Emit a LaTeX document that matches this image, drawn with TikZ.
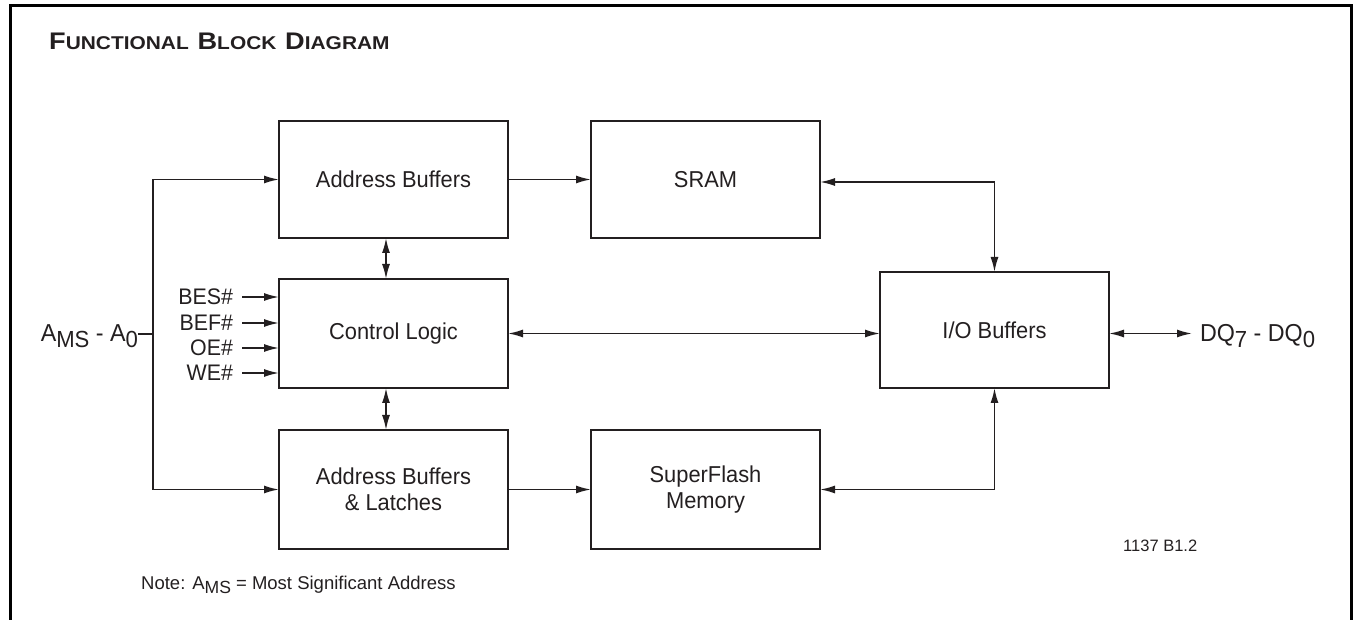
\documentclass[tikz,border=0pt]{standalone}
\usepackage{fontspec}
\usepackage{graphicx}
\setmainfont{Liberation Sans}
\newfontfamily\narrowsans[FakeStretch=0.95]{Liberation Sans}
\usetikzlibrary{arrows.meta}
\definecolor{ink}{RGB}{35,31,32}
\newcommand\lowsub[1]{\raisebox{-0.22em}{\scalebox{0.95}{#1}}}
\newcommand\bigC[1]{{\fontsize{24}{24}\selectfont #1}}
\newcommand\smC[1]{{\fontsize{18.5}{24}\selectfont #1}}
\begin{document}
\begin{tikzpicture}[x=1pt,y=-1pt,
  every node/.style={text=ink},
  blk/.style={draw=ink, line width=1.8pt, minimum width=229pt, inner sep=0pt, outer sep=0pt,
    align=center, font=\narrowsans\fontsize{23}{26}\selectfont},
  sig/.style={inner sep=0pt, outer sep=0pt, font=\narrowsans\fontsize{22.5}{24}\selectfont},
  bus/.style={inner sep=0pt, outer sep=0pt, font=\narrowsans\fontsize{24.5}{26}\selectfont},
  conn/.style={draw=ink, line width=1.7pt},
  arr/.style={conn, -{Latex[length=15pt,width=8pt]}},
  dbl/.style={conn, {Latex[length=15pt,width=8pt]}-{Latex[length=15pt,width=8pt]}}]
\useasboundingbox (0,0) rectangle (1353,620);
\draw[line width=3pt, line cap=butt] (10,620) -- (10,5.5) -- (1351,5.5) -- (1351,620);

% title
\node[anchor=base west, inner sep=0pt, font=\bfseries] (title) at (49,50)
  {\scalebox{1.13}[1]{\bigC{F}\smC{UNCTIONAL}\hspace{5pt} \bigC{B}\smC{LOCK}\hspace{5pt} \bigC{D}\smC{IAGRAM}}};

% blocks
\node[blk, minimum height=117pt] (ab)   at (393.5,179.5) {Address Buffers};
\node[blk, minimum height=117pt] (sram) at (705.5,179.5) {SRAM};
\node[blk, minimum height=109pt] (cl)   at (393.5,333.5) {Control Logic};
\node[blk, minimum height=119pt] (abl)  at (393.5,489.5) {Address Buffers\\\& Latches};
\node[blk, minimum height=119pt] (sf)   at (705.5,489.5) {SuperFlash\\Memory};
\node[blk, minimum height=116pt] (io)   at (994.5,330)   {I/O Buffers};

% address bus
\node[bus, anchor=base east] (ams) at (138,342) {A\lowsub{MS} - A\lowsub{0}};
\coordinate (bt) at (153,179.5);
\coordinate (bm) at (153,334);
\coordinate (bb) at (153,489.5);
\draw[conn] (bt) -- (bb);
\draw[conn] (ams.east |- bm) -- (bm);
\draw[arr] (bt) -- (ab.west);
\draw[arr] (bb) -- (abl.west);

% control inputs
\node[sig, anchor=east] (s1) at (233,297) {BES\#};
\node[sig, anchor=east] (s2) at (233,323) {BEF\#};
\node[sig, anchor=east] (s3) at (233,348) {OE\#};
\node[sig, anchor=east] (s4) at (233,373) {WE\#};
\foreach \s in {s1,s2,s3,s4}
  \draw[arr] ([xshift=9pt]\s.east) -- (\s.east -| cl.west);

% vertical links
\draw[dbl] ([xshift=-7.5pt]ab.south) -- ([xshift=-7.5pt]cl.north);
\draw[dbl] ([xshift=-7.5pt]cl.south) -- ([xshift=-7.5pt]abl.north);

% horizontal links
\draw[arr] (ab.east) -- (sram.west);
\draw[arr] (abl.east) -- (sf.west);
\draw[dbl] ([yshift=-2.5pt]sram.east) -| (io.north);
\draw[dbl] (sf.east) -| (io.south);
\draw[dbl] (cl.east) -- (cl.east -| io.west);

% data bus
\node[bus, anchor=base west] (dq) at (1200,342) {DQ\lowsub{7} - DQ\lowsub{0}};
\coordinate (dqend) at (1192,333.5);
\draw[dbl] (cl.east -| io.east) -- (dqend);

% notes
\node[anchor=base west, inner sep=0pt, font=\fontsize{16.5}{18}\selectfont] (ref) at (1123,551) {1137 B1.2};
\node[anchor=base west, inner sep=0pt, font=\fontsize{18.5}{20}\selectfont] (note) at (141,589)
  {Note: A\lowsub{MS} = Most Significant Address};
\end{tikzpicture}
\end{document}
